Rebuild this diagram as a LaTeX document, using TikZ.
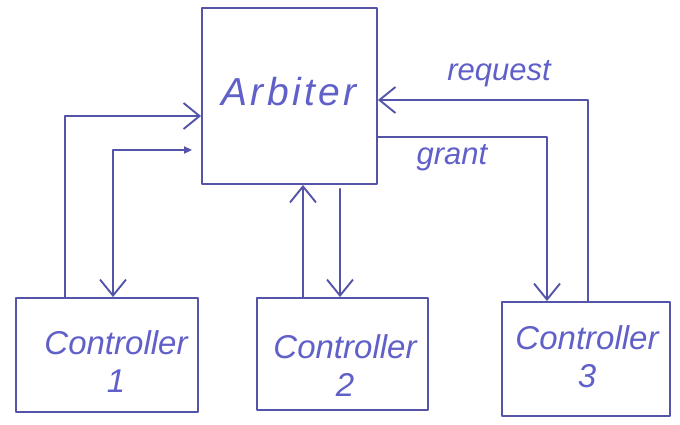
\documentclass[tikz,border=0pt]{standalone}
\usepackage{fontspec}
\setmainfont{Liberation Sans}
\usetikzlibrary{arrows.meta}
\definecolor{ink}{RGB}{84,84,168}
\definecolor{penblue}{RGB}{96,96,200}
\tikzset{
  box/.style={draw=ink, line width=1.9pt, line join=round, inner sep=0pt},
  wire/.style={draw=ink, line width=1.9pt, line join=round, line cap=round},
  barb/.tip={Straight Barb[length=16pt,width=26pt,line width=1.9pt]},
  arr/.style={wire, -barb},
  hand/.style={text=penblue, font=\itshape\fontsize{33}{38}\selectfont, align=center},
  tag/.style={text=penblue, font=\itshape\fontsize{31}{34}\selectfont}
}
\begin{document}
\begin{tikzpicture}[x=1pt,y=-1pt]
  \useasboundingbox (0,0) rectangle (680,424);
  \fill[white] (0,0) rectangle (680,424);

  % blocks
  \node[box, minimum width=175pt, minimum height=176pt] (arb) at (289.5,96) {};
  \node[hand, font=\itshape\fontsize{39}{40}\selectfont\addfontfeature{LetterSpace=9}] (arbtxt) at (289,92) {Arbiter};

  \node[box, minimum width=182pt, minimum height=114pt] (c1) at (107,355) {};
  \node[hand] (c1txt) at (116,362) {Controller\\1};

  \node[box, minimum width=171pt, minimum height=112pt] (c2) at (342.5,354) {};
  \node[hand] (c2txt) at (345,366) {Controller\\2};

  \node[box, minimum width=168pt, minimum height=114pt] (c3) at (586,359) {};
  \node[hand] (c3txt) at (587,357) {Controller\\3};

  % controller 1 <-> arbiter
  \draw[arr] ([xshift=-42pt]c1.north) |- ([yshift=-20pt]arb.west);
  \draw[wire, {Triangle[length=8pt,width=7pt]}-barb]
    ([xshift=-9pt,yshift=-54pt]arb.west) -| ([xshift=6pt]c1.north);

  % controller 2 <-> arbiter
  \coordinate (u2) at ([xshift=-39.5pt]c2.north);
  \coordinate (d2) at ([xshift=-2.5pt]c2.north);
  \draw[arr] (u2) -- (u2 |- arb.south);
  \draw[arr] ([yshift=-4pt]d2 |- arb.south) -- (d2);

  % controller 3 <-> arbiter
  \draw[arr] ([xshift=2pt]c3.north) |- ([yshift=-4pt]arb.east);
  \draw[arr] ([yshift=-41pt]arb.east) -| ([xshift=-39pt]c3.north);

  \node[tag] (req) at (499,74) {request};
  \node[tag] (gnt) at (452,158) {grant};
\end{tikzpicture}
\end{document}
